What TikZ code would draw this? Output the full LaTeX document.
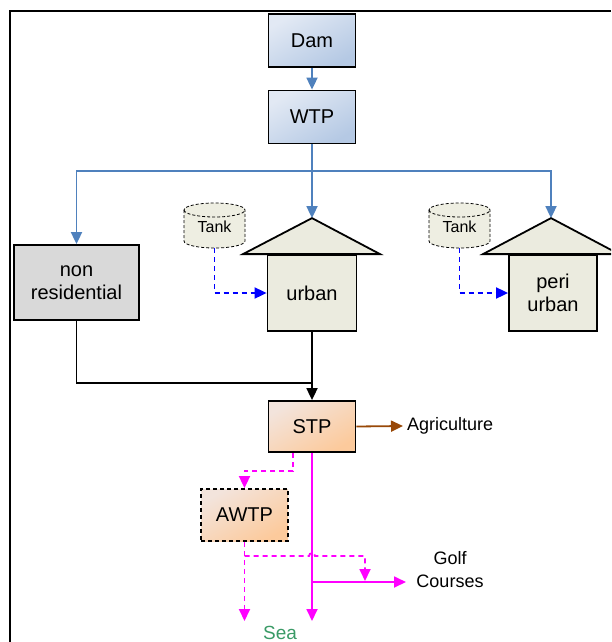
\documentclass[tikz,border=0pt]{standalone}
\usepackage{fontspec}
\setmainfont{Liberation Sans}
\usetikzlibrary{arrows.meta,calc}
\definecolor{cblue}{HTML}{4F81BD}
\definecolor{tblue}{HTML}{0000FF}
\definecolor{cmag}{HTML}{FF00FF}
\definecolor{cbrown}{HTML}{984807}
\definecolor{cgreen}{HTML}{3A9A66}
\definecolor{boxblueA}{HTML}{E2E9F4}
\definecolor{boxblueB}{HTML}{B5C9E4}
\definecolor{boxorA}{HTML}{F3E4DC}
\definecolor{boxorB}{HTML}{FCCA9C}
\definecolor{housefill}{HTML}{EBEBDF}
\definecolor{tankfill}{HTML}{EEEEE2}
\definecolor{nrfill}{HTML}{D9D9D9}
\tikzset{
  box/.style={draw, line width=1.8pt, inner sep=0pt, align=center,
    font=\fontsize{20}{23}\selectfont},
  bluebox/.style={box, shading=axis, top color=boxblueA, bottom color=boxblueB, shading angle=30},
  orbox/.style={box, shading=axis, top color=boxorA, bottom color=boxorB, shading angle=30},
  housebox/.style={box, fill=housefill},
  tri/.style={-{Triangle[length=12pt,width=11pt]}},
  bluearr/.style={tri, draw=cblue, line width=1.8pt},
  tankarr/.style={tri, draw=tblue, line width=1.8pt, dash pattern=on 5pt off 4pt},
  blackarr/.style={tri, draw=black, line width=1.8pt},
  magarr/.style={tri, draw=cmag, line width=1.8pt},
  magdash/.style={tri, draw=cmag, line width=1.8pt, dash pattern=on 5pt off 4pt},
  lbl/.style={inner sep=0pt, align=center, font=\fontsize{18}{23}\selectfont},
}
\begin{document}
\begin{tikzpicture}[x=1pt,y=1pt]
\useasboundingbox (0,0) rectangle (611,-642);
\clip (0,0) rectangle (611,-642);
% frame
\draw[line width=2.2pt] (10,-642) -- (10,-11) -- (611,-11);

% nodes
\node[bluebox, minimum width=87, minimum height=53] (dam) at (312,-40.5) {Dam};
\node[bluebox, minimum width=87, minimum height=53] (wtp) at (312,-117) {WTP};
\node[box, fill=nrfill, minimum width=125, minimum height=75] (nonres) at (76.5,-282.5) {non\\residential};
\node[housebox, minimum width=89, minimum height=76] (urban) at (312,-293) {urban};
\node[housebox, minimum width=88, minimum height=76] (peri) at (553,-293) {peri\\urban};
\node[orbox, minimum width=87, minimum height=51] (stp) at (312,-426.5) {STP};
\node[orbox, dash pattern=on 4pt off 3pt, minimum width=87, minimum height=52] (awtp) at (244.5,-515) {AWTP};

% roofs
\coordinate (urbanapex) at ($(urban.north)+(0,36)$);
\coordinate (periapex) at ($(peri.north)+(-2,36)$);
\draw[fill=housefill, line width=1.8pt, line join=miter] ($(urban.north)+(-69,0)$) -- (urbanapex) -- ($(urban.north)+(68,0)$) -- cycle;
\draw[fill=housefill, line width=1.8pt, line join=miter] ($(peri.north)+(-70,0)$) -- (periapex) -- ($(peri.north)+(66,0)$) -- cycle;

% tanks
\node[minimum width=61, minimum height=45, inner sep=0pt] (tank1) at (214.5,-225.5) {};
\node[minimum width=61, minimum height=45, inner sep=0pt] (tank2) at (459.5,-225.5) {};
\foreach \t in {tank1,tank2}{
  \draw[fill=tankfill, line width=0.8pt, dash pattern=on 3pt off 2pt]
    ($(\t.center)+(-30.5,15.5)$) -- ($(\t.center)+(-30.5,-15.5)$)
    arc[start angle=180, end angle=360, x radius=30.5, y radius=7]
    -- ($(\t.center)+(30.5,15.5)$)
    arc[start angle=0, end angle=180, x radius=30.5, y radius=7] -- cycle;
  \draw[line width=0.8pt, dash pattern=on 3pt off 2pt]
    ($(\t.center)+(-30.5,15.5)$)
    arc[start angle=180, end angle=360, x radius=30.5, y radius=7];
  \node[font=\fontsize{16}{18}\selectfont, inner sep=0pt] at ($(\t.center)+(0,-1)$) {Tank};
}

% labels
\node[lbl, anchor=west] (agri) at (407,-426) {Agriculture};
\node[lbl] (golf) at (450,-569.5) {Golf\\Courses};
\node[lbl, font=\fontsize{19}{23}\selectfont, text=cgreen] (sea) at (280,-633) {Sea};

% blue supply
\draw[bluearr] (dam) -- (wtp);
\coordinate (split) at (312,-171);
\draw[draw=cblue, line width=1.8pt] (wtp.south) -- (split);
\draw[bluearr] (split) -| (nonres.north);
\draw[bluearr] (split) -- (urbanapex);
\draw[bluearr] (split) -| (periapex);

% tank feeds
\draw[tankarr] (tank1.south) |- (urban.west);
\draw[tankarr] (tank2.south) |- (peri.west);

% sewage
\coordinate (join) at (312,-383);
\draw[line width=1.8pt] (nonres.south) |- (join);
\draw[blackarr] (urban.south) -- (stp.north);

% agriculture
\draw[tri, draw=cbrown, line width=1.8pt] (stp.east) -- ($(agri.west)+(-4,0)$);

% STP to AWTP
\draw[magdash] ($(stp.south)+(-19,0)$) -- ++(0,-18) -| (awtp.north);

% STP to sea and golf
\coordinate (seaR) at (312,-621);
\coordinate (seaL) at (244.5,-621);
\coordinate (golfsplit) at (312,-582);
\coordinate (golfin) at (406,-582);
\draw[magarr] (stp.south) -- (seaR);
\draw[magarr] (golfsplit) -- (golfin);
\draw[magdash] (awtp.south) -- (seaL);
\draw[magdash] (244.5,-556) -- (309,-556) arc[start angle=180, end angle=0, radius=3] -- (365,-556) -- (365,-581);
\end{tikzpicture}
\end{document}
